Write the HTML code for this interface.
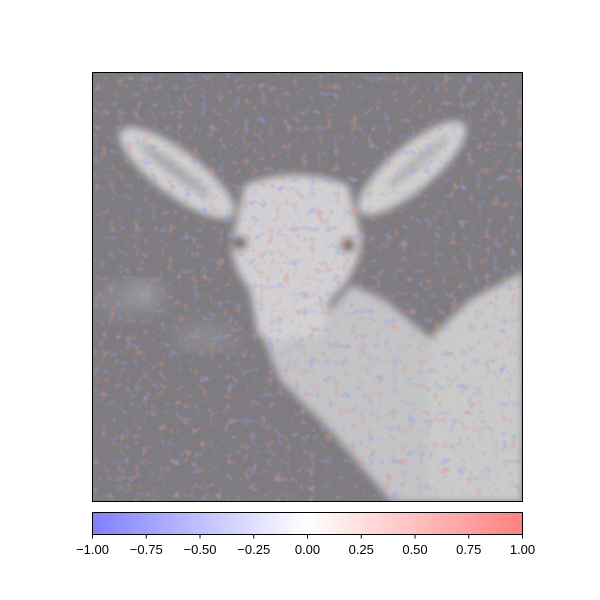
<!DOCTYPE html>
<html><head><meta charset="utf-8">
<style>
html,body{margin:0;padding:0;background:#fff;}
svg{display:block;font-family:"Liberation Sans","DejaVu Sans",sans-serif;}
</style></head>
<body>
<svg width="600" height="600" viewBox="0 0 600 600">
<defs>
<clipPath id="ax"><rect x="92" y="72" width="431" height="430"/></clipPath>
<linearGradient id="bwr" x1="0" x2="1" y1="0" y2="0">
<stop offset="0" stop-color="#8080ff"/>
<stop offset="0.5" stop-color="#ffffff"/>
<stop offset="1" stop-color="#ff8080"/>
</linearGradient>
<filter id="blur4"><feGaussianBlur stdDeviation="4"/></filter>
<filter id="blur10"><feGaussianBlur stdDeviation="10"/></filter>
<filter id="noiseR" x="0" y="0" width="100%" height="100%">
<feTurbulence type="fractalNoise" baseFrequency="0.12" numOctaves="2" seed="3"/>
<feColorMatrix type="matrix" values="0 0 0 0 0.75  0 0 0 0 0.3  0 0 0 0 0.25  3 0 0 0 -1.75"/>
</filter>
<filter id="noiseB" x="0" y="0" width="100%" height="100%">
<feTurbulence type="fractalNoise" baseFrequency="0.12" numOctaves="2" seed="11"/>
<feColorMatrix type="matrix" values="0 0 0 0 0.3  0 0 0 0 0.35  0 0 0 0 0.8  3 0 0 0 -1.75"/>
</filter>
</defs>
<g clip-path="url(#ax)">
<rect x="92" y="72" width="431" height="430" fill="#7e7c80"/>
<g filter="url(#blur10)">
<ellipse cx="142" cy="295" rx="18" ry="12" fill="#a5a5a8"/>
<ellipse cx="205" cy="338" rx="30" ry="10" fill="#929296"/>
<ellipse cx="115" cy="300" rx="20" ry="12" fill="#8e8e92"/>
</g>
<g filter="url(#blur4)">
<polygon fill="#c4c4c6" points="262,335 300,345 352,285 385,300 430,338 470,300 523,272 523,502 392,502 330,430 280,380"/>
<polygon fill="#cacacb" points="432,342 470,300 523,272 523,502 430,502 427,400"/>
<ellipse cx="177" cy="173" rx="70" ry="22" transform="rotate(37 177 173)" fill="#d0d0d1"/>
<ellipse cx="175" cy="170" rx="45" ry="6" transform="rotate(37 175 170)" fill="#a8a8aa"/>
<ellipse cx="412" cy="168" rx="68" ry="22" transform="rotate(-40 412 168)" fill="#d0d0d1"/>
<ellipse cx="418" cy="162" rx="40" ry="6" transform="rotate(-40 418 162)" fill="#b4b4b6"/>
<path fill="#d2d0d2" d="M245,185 Q295,165 348,185 L362,240 Q358,275 330,300 L322,335 Q290,350 258,335 L250,290 Q230,265 232,240 Z"/>
<circle cx="240" cy="243" r="7" fill="#6a5a5c"/>
<circle cx="348" cy="245" r="7" fill="#6a5a5c"/>
</g>
<rect x="92" y="72" width="431" height="430" filter="url(#noiseR)" opacity="0.55"/>
<rect x="92" y="72" width="431" height="430" filter="url(#noiseB)" opacity="0.55"/>
</g>
<rect x="92.5" y="72.5" width="430" height="429" fill="none" stroke="#000" stroke-width="1"/>
<rect x="92.5" y="512.5" width="430" height="22" fill="url(#bwr)" stroke="#000" stroke-width="1"/>
<g id="ticks"></g>
<script>
const tickValues=[-1,-0.75,-0.5,-0.25,0,0.25,0.5,0.75,1];
const tickLabels=["\u22121.00","\u22120.75","\u22120.50","\u22120.25","0.00","0.25","0.50","0.75","1.00"];
const g=document.getElementById('ticks');
const ns="http://www.w3.org/2000/svg";
function xs(v){return 92.5+(v+1)/2*430;}
tickValues.forEach((v,i)=>{
 const l=document.createElementNS(ns,'line');
 l.setAttribute('x1',xs(v));l.setAttribute('x2',xs(v));
 l.setAttribute('y1',535);l.setAttribute('y2',538.5);
 l.setAttribute('stroke','#000');
 
 
 g.appendChild(l);
 const t=document.createElementNS(ns,'text');
 t.setAttribute('x',xs(v));t.setAttribute('y',554);
 t.setAttribute('text-anchor','middle');t.setAttribute('font-size','13');
 t.textContent=tickLabels[i];
 
 
 g.appendChild(t);
});
</script>
</svg>
</body></html>
